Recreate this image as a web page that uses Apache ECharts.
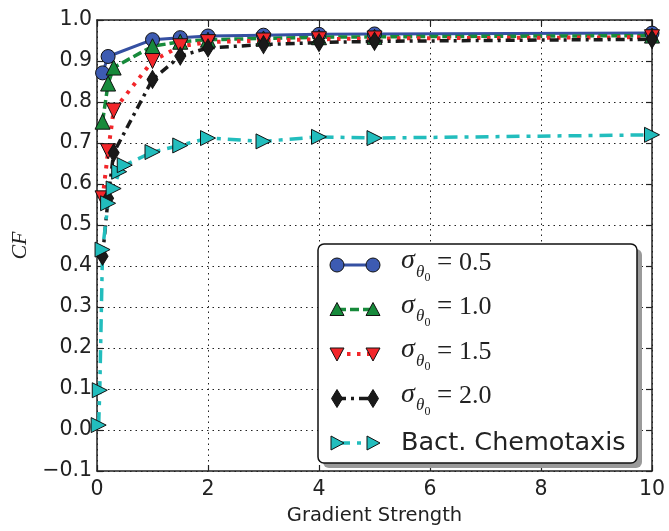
<!DOCTYPE html>
<html>
<head>
<meta charset="utf-8">
<script src="https://cdn.jsdelivr.net/npm/echarts@6/dist/echarts.min.js"></script>
<style>
html,body{margin:0;padding:0;background:#fff;}
#c{width:669px;height:531px;}
</style>
</head>
<body>
<div id="c"></div>
<script>
// ---- data ----
var xTicks = [0, 2, 4, 6, 8, 10];
var yTicks = [-0.1, 0.0, 0.1, 0.2, 0.3, 0.4, 0.5, 0.6, 0.7, 0.8, 0.9, 1.0];

var xBlue  = [0.1, 0.2, 1, 1.5, 2, 3, 4, 5, 10];
var yBlue  = [0.871, 0.911, 0.952, 0.957, 0.961, 0.963, 0.965, 0.966, 0.968];

var xGreen = [0.1, 0.2, 0.3, 1, 1.5, 2, 3, 4, 5, 10];
var yGreen = [0.752, 0.845, 0.884, 0.936, 0.947, 0.952, 0.955, 0.958, 0.959, 0.962];

var xRed   = [0.1, 0.2, 0.3, 1, 1.5, 2, 3, 4, 5, 10];
var yRed   = [0.565, 0.680, 0.779, 0.900, 0.936, 0.946, 0.950, 0.953, 0.955, 0.958];

var xBlack = [0.1, 0.2, 0.3, 1, 1.5, 2, 3, 4, 5, 10];
var yBlack = [0.424, 0.565, 0.676, 0.855, 0.912, 0.932, 0.940, 0.945, 0.948, 0.953];

var xCyan  = [0.03, 0.05, 0.1, 0.2, 0.3, 0.4, 0.5, 1, 1.5, 2, 3, 4, 5, 10];
var yCyan  = [0.012, 0.097, 0.440, 0.553, 0.589, 0.630, 0.646, 0.678, 0.694, 0.712, 0.704, 0.715, 0.712, 0.720];

var legendLabels = ['0.5', '1.0', '1.5', '2.0', 'Bact. Chemotaxis'];

function pairs(xs, ys) { return xs.map(function (x, i) { return [x, ys[i]]; }); }

var C = {
  blue: '#3550a2', blueFill: '#3d5bb2',
  green: '#178a3b', red: '#f2262a', black: '#1a1a1a', cyan: '#22bdbd'
};

var chart = echarts.init(document.getElementById('c'), null, {renderer: 'canvas'});

var gridL = 97, gridT = 20, gridW = 555, gridH = 456;

function fmtY(v) {
  if (Math.abs(v) < 1e-9) return '0.0';
  var s = v.toFixed(1);
  return s.replace('-', '\u2212');
}

var axisLineStyle = {color: '#222', width: 1.5};
var tickStyle = {show: true, inside: true, length: 6, lineStyle: {color: '#222', width: 1.2}};

var series = [
  {name: 'b', data: pairs(xBlue, yBlue), color: C.blueFill,
   lineStyle: {color: C.blue, width: 3, type: 'solid'},
   symbol: 'circle', symbolSize: 14},
  {name: 'g', data: pairs(xGreen, yGreen), color: C.green,
   lineStyle: {color: C.green, width: 3.5, type: [9, 4]},
   symbol: 'triangle', symbolSize: 15},
  {name: 'r', data: pairs(xRed, yRed), color: C.red,
   lineStyle: {color: C.red, width: 4, type: [3.5, 6.5]},
   symbol: 'triangle', symbolSize: 15, symbolRotate: 180},
  {name: 'k', data: pairs(xBlack, yBlack), color: C.black,
   lineStyle: {color: C.black, width: 3.5, type: [9, 5, 3, 5]},
   symbol: 'diamond', symbolSize: [11, 18]},
  {name: 'c', data: pairs(xCyan, yCyan), color: C.cyan,
   lineStyle: {color: C.cyan, width: 3.5, type: [13, 7, 4, 7]},
   symbol: 'triangle', symbolSize: 15, symbolRotate: -90}
].map(function (s) {
  return {
    name: s.name, type: 'line', data: s.data, xAxisIndex: 0, yAxisIndex: 0,
    symbol: s.symbol, symbolSize: s.symbolSize, symbolRotate: s.symbolRotate || 0,
    showAllSymbol: true, clip: true, animation: false,
    lineStyle: s.lineStyle,
    itemStyle: {color: s.color, borderColor: '#111', borderWidth: 1},
    emphasis: {disabled: true}
  };
});

// ---- legend drawn as graphic ----
var lgX = 318, lgY = 244, lgW = 319, lgH = 219;
var rowY0 = 265, rowGap = 44.5;
var mk1 = 337, mk2 = 373;
var g = [];
g.push({type: 'rect', shape: {x: lgX + 5, y: lgY + 5, width: lgW, height: lgH, r: 6},
        style: {fill: '#9a9a9a'}, z: 100});
g.push({type: 'rect', shape: {x: lgX, y: lgY, width: lgW, height: lgH, r: 6},
        style: {fill: '#fff', stroke: '#111', lineWidth: 1.5}, z: 101});

function markerShape(kind, cx, cy, fill) {
  var st = {fill: fill, stroke: '#111', lineWidth: 1};
  if (kind === 'circle') return {type: 'circle', shape: {cx: cx, cy: cy, r: 7}, style: st, z: 103};
  var pts;
  if (kind === 'up') pts = [[cx, cy - 7], [cx + 7, cy + 6], [cx - 7, cy + 6]];
  if (kind === 'down') pts = [[cx - 7, cy - 6], [cx + 7, cy - 6], [cx, cy + 7]];
  if (kind === 'right') pts = [[cx - 6, cy - 7], [cx + 7, cy], [cx - 6, cy + 7]];
  if (kind === 'diamond') pts = [[cx, cy - 9], [cx + 5.5, cy], [cx, cy + 9], [cx - 5.5, cy]];
  return {type: 'polygon', shape: {points: pts}, style: st, z: 103};
}
var kinds = ['circle', 'up', 'down', 'diamond', 'right'];
var fills = [C.blueFill, C.green, C.red, C.black, C.cyan];
series.forEach(function (s, i) {
  var cy = rowY0 + rowGap * i;
  g.push({type: 'line', shape: {x1: mk1, y1: cy, x2: mk2, y2: cy},
          style: {stroke: s.lineStyle.color, lineWidth: s.lineStyle.width,
                  lineDash: s.lineStyle.type === 'solid' ? null : s.lineStyle.type}, z: 102});
  g.push(markerShape(kinds[i], mk1, cy, fills[i]));
  g.push(markerShape(kinds[i], mk2, cy, fills[i]));
  if (i < 4) {
    g.push({type: 'text', style: {text: '\u03c3', x: 401, y: cy + 10, font: 'italic 28px "Liberation Serif"', fill: '#222', textVerticalAlign: 'bottom'}, z: 103});
    g.push({type: 'text', style: {text: '\u03b8', x: 416, y: cy + 16, font: 'italic 17px "Liberation Serif"', fill: '#222', textVerticalAlign: 'bottom'}, z: 103});
    g.push({type: 'text', style: {text: '0', x: 424.5, y: cy + 19, font: '12px "Liberation Serif"', fill: '#222', textVerticalAlign: 'bottom'}, z: 103});
    g.push({type: 'text', style: {text: '=', x: 437, y: cy + 11, font: '27px "Liberation Serif"', fill: '#222', textVerticalAlign: 'bottom'}, z: 103});
    g.push({type: 'text', style: {text: legendLabels[i], x: 459, y: cy + 11, font: '26px "Liberation Serif"', fill: '#222', textVerticalAlign: 'bottom'}, z: 103});
  } else {
    g.push({type: 'text', style: {text: legendLabels[i], x: 401, y: cy, font: '25.5px "DejaVu Sans"', fill: '#222', textVerticalAlign: 'middle'}, z: 103});
  }
});

var option = {
  backgroundColor: '#fff',
  animation: false,
  grid: {left: gridL, top: gridT, width: gridW, height: gridH, containLabel: false},
  xAxis: [
    {type: 'value', min: xTicks[0], max: xTicks[xTicks.length - 1], interval: 2, position: 'bottom',
     name: 'Gradient Strength', nameLocation: 'middle', nameGap: 35,
     nameTextStyle: {fontFamily: 'DejaVu Sans', fontSize: 19.5, color: '#222'},
     axisLine: {show: true, onZero: false, lineStyle: axisLineStyle},
     axisTick: tickStyle,
     axisLabel: {show: true, margin: 8, fontFamily: 'DejaVu Sans', fontSize: 20.5, color: '#222',
                 formatter: function (v) { return String(v); }},
     splitLine: {show: true, lineStyle: {color: '#222', width: 1, type: [1.5, 4]}}},
    {type: 'value', min: xTicks[0], max: xTicks[xTicks.length - 1], interval: 2, position: 'top',
     axisLine: {show: true, onZero: false, lineStyle: axisLineStyle},
     axisTick: tickStyle, axisLabel: {show: false}, splitLine: {show: false}}
  ],
  yAxis: [
    {type: 'value', min: yTicks[0], max: yTicks[yTicks.length - 1], interval: 0.1, position: 'left',
     name: 'CF', nameLocation: 'middle', nameGap: 58, nameRotate: 90,
     nameTextStyle: {fontFamily: 'Liberation Serif', fontStyle: 'italic', fontSize: 22, color: '#222'},
     axisLine: {show: true, onZero: false, lineStyle: axisLineStyle},
     axisTick: tickStyle,
     axisLabel: {show: true, margin: 5, fontFamily: 'DejaVu Sans', fontSize: 20.5, color: '#222', formatter: fmtY},
     splitLine: {show: true, lineStyle: {color: '#222', width: 1, type: [1.5, 4]}}},
    {type: 'value', min: yTicks[0], max: yTicks[yTicks.length - 1], interval: 0.1, position: 'right',
     axisLine: {show: true, onZero: false, lineStyle: axisLineStyle},
     axisTick: tickStyle, axisLabel: {show: false}, splitLine: {show: false}}
  ],
  series: series,
  graphic: g
};
chart.setOption(option);
</script>
</body>
</html>
